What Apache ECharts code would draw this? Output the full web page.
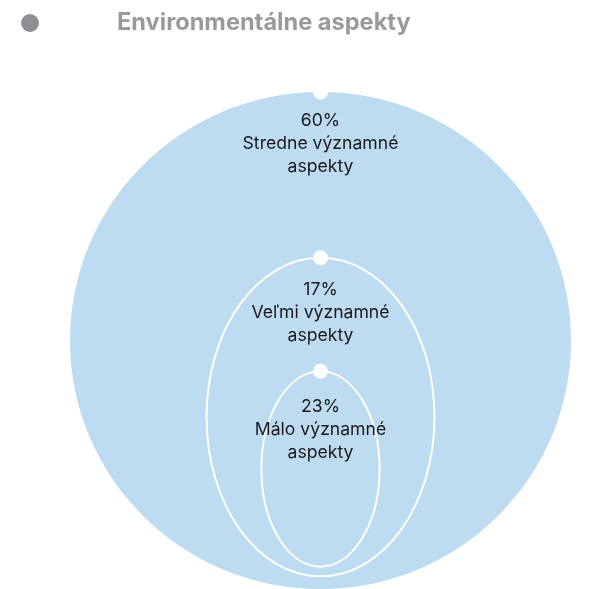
<!DOCTYPE html>
<html>
<head>
<meta charset="utf-8">
<script src="https://cdn.jsdelivr.net/npm/echarts@6/dist/echarts.min.js"></script>
<style>
html,body{margin:0;padding:0;background:#fff;}
#chart{width:601px;height:589px;}
</style>
</head>
<body>
<div id="chart"></div>
<script>
// ---- data ----
const seriesName = 'Environmentálne aspekty';
const categories = ['Stredne významné\naspekty', 'Veľmi významné\naspekty', 'Málo významné\naspekty'];
const values = [60, 17, 23];

// ---- layout (nested ellipses in axis units, outer circle = unit circle) ----
const ellipseLayout = [
  { cy: 0, rx: 1, ry: 1, labelGap: 17 },
  { cy: -0.308, rx: 0.455, ry: 0.641, labelGap: 20 },
  { cy: -0.517, rx: 0.236, ry: 0.393, labelGap: 24 }
];

const FILL = '#bddbf1';
const FONT = 'Inter, "Liberation Sans", Arial, sans-serif';

const chart = echarts.init(document.getElementById('chart'), null, { renderer: 'canvas' });

const option = {
  animation: false,
  backgroundColor: '#fff',
  legend: {
    left: 21,
    top: 11,
    padding: 0,
    itemWidth: 18,
    itemHeight: 18,
    icon: 'circle',
    data: [{ name: seriesName, itemStyle: { color: '#8e8e93' } }],
    textStyle: {
      color: '#9a9a9e',
      fontSize: 23.6,
      fontWeight: 'bold',
      fontFamily: FONT,
      padding: [0, 0, 0, 73]
    },
    selectedMode: false
  },
  grid: { left: 70, top: 92, width: 501, height: 501 },
  xAxis: { type: 'value', min: -1, max: 1, show: false },
  yAxis: { type: 'value', min: -1, max: 1, show: false },
  series: [{
    name: seriesName,
    type: 'custom',
    color: '#8e8e93',
    clip: false,
    data: values.map((v, i) => [i, v]),
    renderItem: function (params, api) {
      const i = api.value(0);
      const v = api.value(1);
      const L = ellipseLayout[i];
      const c = api.coord([0, L.cy]);
      const s = api.size([L.rx, L.ry]);
      const top = c[1] - s[1];
      const outer = i === 0;
      return {
        type: 'group',
        children: [
          {
            type: 'ellipse',
            shape: { cx: c[0], cy: c[1], rx: s[0], ry: s[1] },
            style: outer ? { fill: FILL, stroke: null } : { fill: FILL, stroke: '#ffffff', lineWidth: 2 }
          },
          {
            type: 'circle',
            shape: { cx: c[0], cy: top, r: 7.5 },
            style: { fill: '#ffffff' }
          },
          {
            type: 'text',
            x: c[0],
            y: top + L.labelGap,
            style: {
              text: v + '%\n' + categories[i],
              fill: '#1a1a1c',
              font: '17.6px ' + FONT,
              align: 'center',
              verticalAlign: 'top',
              lineHeight: 23
            }
          }
        ]
      };
    }
  }]
};

chart.setOption(option);
</script>
</body>
</html>
